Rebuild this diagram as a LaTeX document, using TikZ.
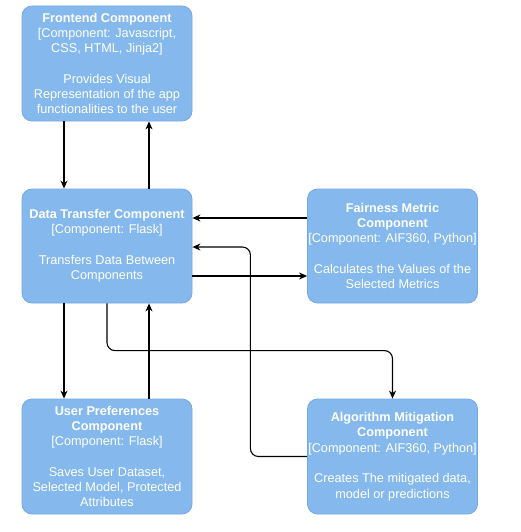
\documentclass[tikz,border=0pt]{standalone}
\usepackage{fontspec}
\setmainfont{Liberation Sans}
\usetikzlibrary{arrows.meta}
\definecolor{boxfill}{RGB}{133,185,238}
\definecolor{boxline}{RGB}{118,168,224}
\tikzset{
  comp/.style={draw=boxline, fill=boxfill, rounded corners=10pt, minimum width=170pt, minimum height=115pt,
    text=white, align=center, font=\fontsize{12.7}{15.3}\selectfont, inner sep=0pt, line width=0.8pt},
  arr/.style={-{Stealth[length=8pt,width=7pt,inset=2.5pt]}, line width=1.1pt, rounded corners=8pt},
}
\begin{document}
\begin{tikzpicture}[x=1pt,y=-1pt]
\useasboundingbox (0,0) rectangle (521,532);
\node[comp] (fe) at (107,63.5) {\textbf{Frontend Component}\\{[}Component: Javascript,\\CSS, HTML, Jinja2{]}\\[15.3pt]Provides Visual\\Representation of the app\\functionalities to the user};
\node[comp, minimum height=114pt] (dt) at (107,246) {\textbf{Data Transfer Component}\\{[}Component: Flask{]}\\[15.3pt]Transfers Data Between\\Components};
\node[comp, minimum height=114pt] (fm) at (392.5,246) {\textbf{Fairness Metric}\\\textbf{Component}\\{[}Component: AIF360, Python{]}\\[15.3pt]Calculates the Values of the\\Selected Metrics};
\node[comp] (up) at (107,456.5) {\textbf{User Preferences}\\\textbf{Component}\\{[}Component: Flask{]}\\[15.3pt]Saves User Dataset,\\Selected Model, Protected\\Attributes};
\node[comp] (am) at (392.5,456.5) {\textbf{Algorithm Mitigation}\\\textbf{Component}\\{[}Component: AIF360, Python{]}\\[15.3pt]Creates The mitigated data,\\model or predictions};
\draw[arr] ([xshift=-43pt]fe.south) -- ([xshift=-43pt]dt.north);
\draw[arr] ([xshift=42pt]dt.north) -- ([xshift=42pt]fe.south);
\draw[arr] ([yshift=28pt]fm.west) -- ([yshift=28pt]dt.east);
\draw[arr] ([yshift=-30pt]dt.east) -- ([yshift=-30pt]fm.west);
\draw[arr] (am.west) -| ([xshift=58pt,yshift=-1pt]dt.east) -- ([yshift=-1pt]dt.east);
\draw[arr] (dt.south) |- ([yshift=48pt]am.north) -- (am.north);
\draw[arr] ([xshift=-43pt]dt.south) -- ([xshift=-43pt]up.north);
\draw[arr] ([xshift=42pt]up.north) -- ([xshift=42pt]dt.south);
\end{tikzpicture}
\end{document}
